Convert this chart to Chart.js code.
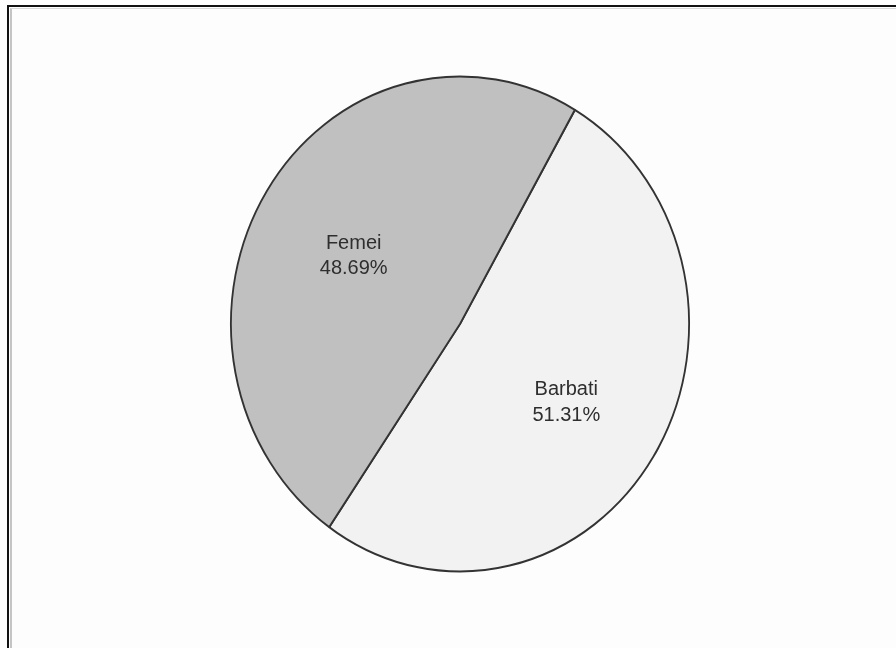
<!DOCTYPE html>
<html>
<head>
<meta charset="utf-8">
<script src="https://cdn.jsdelivr.net/npm/chart.js@4.4.1/dist/chart.umd.min.js"></script>
<style>
  html, body { margin: 0; padding: 0; background: #ffffff; }
  #wrap { position: relative; width: 896px; height: 648px; overflow: hidden; background: #fdfdfd; }
  #frame1 { position: absolute; left: 7px; top: 5px; width: 1000px; height: 1000px;
            border-left: 2px solid #111; border-top: 2px solid #111; }
  #frame2 { position: absolute; left: 10px; top: 8px; width: 1000px; height: 1000px;
            border-left: 2px solid #c4c4c4; border-top: 1px solid #d8d8d8; }
  canvas { position: absolute; left: 0; top: 0; }
</style>
</head>
<body>
<div id="wrap">
  <div id="frame1"></div>
  <div id="frame2"></div>
  <canvas id="c" width="896" height="648"></canvas>
</div>
<script>
const categories = ['Barbati', 'Femei'];
const values = [51.31, 48.69];
const colors = ['#f2f2f2', '#c0c0c0'];

const X_SCALE = 230 / 248.5;

const ellipsePlugin = {
  id: 'ellipse',
  beforeDatasetsDraw(chart) {
    const arc = chart.getDatasetMeta(0).data[0];
    const ctx = chart.ctx;
    ctx.save();
    ctx.translate(arc.x, arc.y);
    ctx.scale(X_SCALE, 1);
    ctx.translate(-arc.x, -arc.y);
  },
  afterDatasetsDraw(chart) {
    const ctx = chart.ctx;
    ctx.restore();
    const meta = chart.getDatasetMeta(0);
    ctx.save();
    ctx.font = '20px "Liberation Sans", Arial, sans-serif';
    ctx.fillStyle = '#2e2e2e';
    ctx.textAlign = 'center';
    ctx.textBaseline = 'middle';
    meta.data.forEach((a, i) => {
      const mid = (a.startAngle + a.endAngle) / 2;
      const r = a.outerRadius * 0.55;
      const x = a.x + X_SCALE * r * Math.cos(mid);
      const y = a.y + r * Math.sin(mid) + 5;
      ctx.fillText(categories[i], x, y - 12.5);
      ctx.fillText(values[i].toFixed(2) + '%', x, y + 13);
    });
    ctx.restore();
  }
};

new Chart(document.getElementById('c'), {
  type: 'pie',
  data: {
    labels: categories,
    datasets: [{
      data: values,
      backgroundColor: colors,
      borderColor: '#333333',
      borderWidth: 2
    }]
  },
  options: {
    responsive: false,
    animation: false,
    rotation: 30.1,
    layout: { padding: { top: 75.5, bottom: 75.5, left: 211.5, right: 187.5 } },
    plugins: {
      legend: { display: false },
      tooltip: { enabled: false }
    }
  },
  plugins: [ellipsePlugin]
});
</script>
</body>
</html>
